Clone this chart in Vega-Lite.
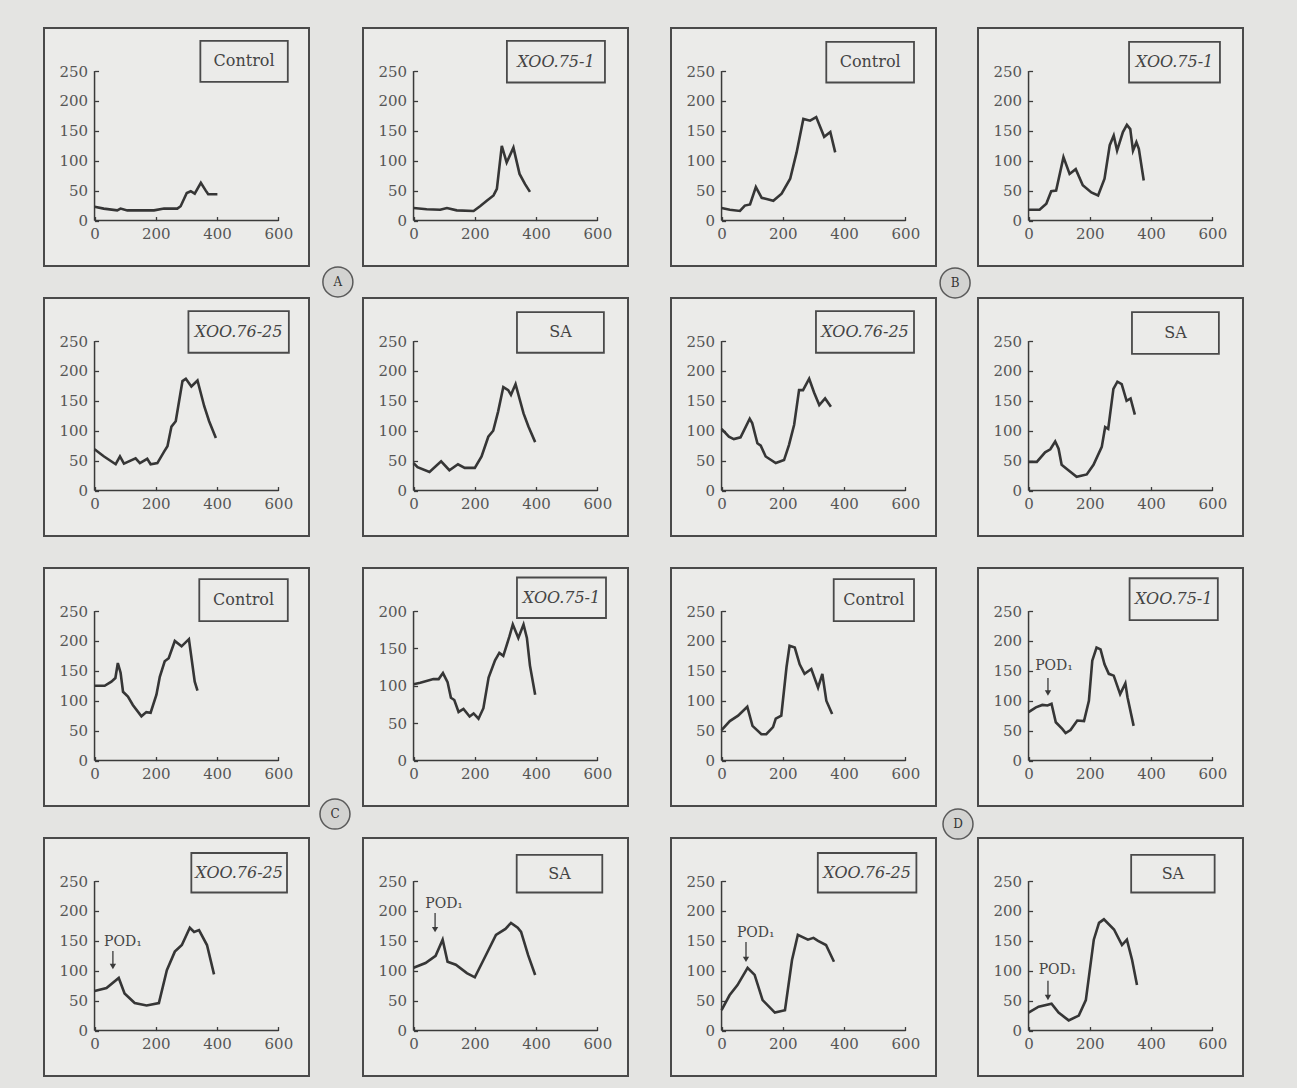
{
"$schema":"https://vega.github.io/schema/vega-lite/v6.json",
"background":"#e4e4e2",
"padding":{"left":43,"top":27,"right":56,"bottom":12},
"config":{
 "view":{"stroke":"#4a4a4a","strokeWidth":2,"fill":"#ebebe9"},
 "axis":{"domain":false,"grid":false,"ticks":true,"tickSize":-4,"tickColor":"#3a3a3a","tickWidth":1.3,"labelFont":"DejaVu Serif","labelFontSize":15,"labelColor":"#555555","labelFlush":false,"labelOverlap":false},
 "axisX":{"offset":-45.45,"labelPadding":10},
 "axisY":{"offset":-50.55,"labelPadding":11}
},
"datasets":{
 "p1":[{"x":0,"y":23},{"x":30,"y":20},{"x":74,"y":17},{"x":85,"y":20},{"x":107,"y":17},{"x":150,"y":17},{"x":194,"y":17},{"x":227,"y":20},{"x":270,"y":20},{"x":281,"y":24},{"x":301,"y":46},{"x":314,"y":49},{"x":327,"y":45},{"x":347,"y":63},{"x":363,"y":50},{"x":371,"y":44},{"x":401,"y":44}],
 "p2":[{"x":0,"y":21},{"x":43,"y":19},{"x":87,"y":18},{"x":109,"y":21},{"x":141,"y":17},{"x":196,"y":16},{"x":217,"y":24},{"x":239,"y":33},{"x":261,"y":42},{"x":272,"y":53},{"x":288,"y":125},{"x":304,"y":97},{"x":326,"y":122},{"x":346,"y":78},{"x":364,"y":61},{"x":380,"y":48}],
 "p3":[{"x":0,"y":21},{"x":27,"y":18},{"x":60,"y":16},{"x":76,"y":25},{"x":93,"y":27},{"x":112,"y":56},{"x":131,"y":38},{"x":147,"y":36},{"x":169,"y":33},{"x":196,"y":45},{"x":224,"y":70},{"x":245,"y":114},{"x":267,"y":170},{"x":289,"y":167},{"x":309,"y":173},{"x":335,"y":140},{"x":355,"y":148},{"x":371,"y":114}],
 "p4":[{"x":0,"y":18},{"x":36,"y":18},{"x":58,"y":28},{"x":74,"y":49},{"x":90,"y":50},{"x":114,"y":106},{"x":134,"y":78},{"x":154,"y":86},{"x":177,"y":59},{"x":205,"y":47},{"x":227,"y":42},{"x":248,"y":70},{"x":265,"y":126},{"x":278,"y":142},{"x":289,"y":117},{"x":308,"y":148},{"x":321,"y":160},{"x":332,"y":153},{"x":341,"y":117},{"x":352,"y":131},{"x":360,"y":120},{"x":376,"y":67}],
 "p5":[{"x":0,"y":69},{"x":31,"y":57},{"x":69,"y":44},{"x":83,"y":57},{"x":96,"y":45},{"x":134,"y":54},{"x":148,"y":46},{"x":172,"y":53},{"x":183,"y":44},{"x":205,"y":46},{"x":227,"y":65},{"x":238,"y":74},{"x":251,"y":107},{"x":265,"y":116},{"x":287,"y":183},{"x":298,"y":187},{"x":316,"y":174},{"x":336,"y":184},{"x":358,"y":141},{"x":374,"y":116},{"x":396,"y":88}],
 "p6":[{"x":0,"y":46},{"x":13,"y":39},{"x":52,"y":31},{"x":90,"y":49},{"x":117,"y":34},{"x":145,"y":44},{"x":167,"y":38},{"x":200,"y":38},{"x":222,"y":57},{"x":244,"y":90},{"x":260,"y":100},{"x":276,"y":132},{"x":293,"y":173},{"x":309,"y":168},{"x":318,"y":160},{"x":333,"y":178},{"x":359,"y":129},{"x":375,"y":107},{"x":397,"y":81}],
 "p7":[{"x":0,"y":103},{"x":24,"y":90},{"x":40,"y":86},{"x":62,"y":89},{"x":92,"y":120},{"x":100,"y":113},{"x":117,"y":79},{"x":128,"y":75},{"x":144,"y":57},{"x":177,"y":46},{"x":204,"y":51},{"x":220,"y":76},{"x":237,"y":110},{"x":253,"y":168},{"x":266,"y":168},{"x":286,"y":187},{"x":302,"y":164},{"x":319,"y":143},{"x":338,"y":154},{"x":357,"y":140}],
 "p8":[{"x":0,"y":48},{"x":27,"y":48},{"x":54,"y":64},{"x":71,"y":69},{"x":87,"y":82},{"x":98,"y":70},{"x":108,"y":43},{"x":125,"y":36},{"x":157,"y":23},{"x":190,"y":27},{"x":212,"y":43},{"x":239,"y":73},{"x":250,"y":106},{"x":260,"y":103},{"x":277,"y":170},{"x":290,"y":182},{"x":304,"y":178},{"x":320,"y":150},{"x":333,"y":154},{"x":347,"y":127}],
 "p9":[{"x":0,"y":125},{"x":33,"y":125},{"x":55,"y":132},{"x":68,"y":138},{"x":76,"y":163},{"x":85,"y":147},{"x":93,"y":115},{"x":109,"y":107},{"x":125,"y":93},{"x":153,"y":74},{"x":169,"y":81},{"x":183,"y":80},{"x":202,"y":110},{"x":213,"y":140},{"x":229,"y":166},{"x":242,"y":171},{"x":262,"y":200},{"x":284,"y":191},{"x":308,"y":203},{"x":327,"y":132},{"x":336,"y":117}],
 "p10":[{"x":0,"y":102},{"x":22,"y":104},{"x":65,"y":109},{"x":82,"y":109},{"x":96,"y":117},{"x":111,"y":105},{"x":122,"y":84},{"x":133,"y":81},{"x":147,"y":65},{"x":163,"y":69},{"x":183,"y":59},{"x":196,"y":63},{"x":212,"y":56},{"x":228,"y":70},{"x":245,"y":111},{"x":266,"y":134},{"x":280,"y":144},{"x":293,"y":140},{"x":313,"y":166},{"x":324,"y":182},{"x":342,"y":164},{"x":359,"y":182},{"x":370,"y":164},{"x":380,"y":127},{"x":397,"y":88}],
 "p11":[{"x":0,"y":51},{"x":27,"y":66},{"x":54,"y":75},{"x":84,"y":90},{"x":101,"y":58},{"x":130,"y":44},{"x":146,"y":44},{"x":168,"y":56},{"x":177,"y":70},{"x":195,"y":75},{"x":212,"y":156},{"x":222,"y":192},{"x":239,"y":189},{"x":255,"y":161},{"x":271,"y":145},{"x":293,"y":153},{"x":315,"y":122},{"x":329,"y":145},{"x":342,"y":100},{"x":361,"y":78}],
 "p12":[{"x":0,"y":81},{"x":24,"y":89},{"x":45,"y":93},{"x":62,"y":92},{"x":75,"y":95},{"x":89,"y":64},{"x":110,"y":53},{"x":121,"y":46},{"x":137,"y":51},{"x":159,"y":67},{"x":181,"y":66},{"x":197,"y":100},{"x":208,"y":167},{"x":222,"y":189},{"x":235,"y":186},{"x":248,"y":161},{"x":262,"y":145},{"x":278,"y":142},{"x":299,"y":111},{"x":316,"y":129},{"x":323,"y":106},{"x":343,"y":58}],
 "p13":[{"x":0,"y":66},{"x":39,"y":71},{"x":79,"y":88},{"x":98,"y":62},{"x":131,"y":46},{"x":170,"y":42},{"x":210,"y":46},{"x":236,"y":101},{"x":262,"y":132},{"x":285,"y":143},{"x":311,"y":172},{"x":325,"y":165},{"x":341,"y":168},{"x":367,"y":143},{"x":390,"y":94}],
 "p14":[{"x":0,"y":105},{"x":39,"y":113},{"x":72,"y":125},{"x":95,"y":152},{"x":111,"y":115},{"x":138,"y":110},{"x":174,"y":96},{"x":200,"y":89},{"x":236,"y":126},{"x":269,"y":160},{"x":300,"y":170},{"x":318,"y":180},{"x":340,"y":172},{"x":351,"y":165},{"x":374,"y":126},{"x":397,"y":93}],
 "p15":[{"x":0,"y":34},{"x":26,"y":59},{"x":52,"y":76},{"x":85,"y":105},{"x":108,"y":93},{"x":134,"y":51},{"x":174,"y":30},{"x":207,"y":34},{"x":230,"y":118},{"x":249,"y":160},{"x":282,"y":152},{"x":300,"y":155},{"x":315,"y":150},{"x":341,"y":143},{"x":367,"y":115}],
 "p16":[{"x":0,"y":30},{"x":33,"y":40},{"x":75,"y":45},{"x":98,"y":30},{"x":131,"y":17},{"x":164,"y":25},{"x":187,"y":51},{"x":213,"y":152},{"x":230,"y":180},{"x":246,"y":186},{"x":279,"y":169},{"x":305,"y":143},{"x":321,"y":152},{"x":338,"y":118},{"x":354,"y":76}]
},
"spacing":41,
"hconcat":[
{"spacing":5,"hconcat":[
 {"bounds":"flush","spacing":32,"vconcat":[
  {"width":265,"height":238,"layer":[
   {"layer":[
    {"data":{"values":[{}]},"mark":{"type":"rule","color":"#3a3a3a","strokeWidth":1.5},"encoding":{"x":{"datum":0,"type":"quantitative","scale":{"domain":[-165,700],"nice":false,"zero":false}},"x2":{"datum":600},"y":{"datum":0,"type":"quantitative","scale":{"domain":[-76,322],"nice":false,"zero":false}}}},
    {"data":{"values":[{}]},"mark":{"type":"rule","color":"#3a3a3a","strokeWidth":1.5},"encoding":{"x":{"datum":0,"type":"quantitative","scale":{"domain":[-165,700],"nice":false,"zero":false}},"y":{"datum":0,"type":"quantitative","scale":{"domain":[-76,322],"nice":false,"zero":false}},"y2":{"datum":250}}},
    {"data":{"name":"p1"},"mark":{"type":"line","color":"#363636","strokeWidth":2.6},"encoding":{"x":{"field":"x","type":"quantitative","scale":{"domain":[-165,700],"nice":false,"zero":false},"axis":{"values":[0,200,400,600],"title":null}},"y":{"field":"y","type":"quantitative","scale":{"domain":[-76,322],"nice":false,"zero":false},"axis":{"values":[0,50,100,150,200,250],"title":null}}}}
   ]},
   {"data":{"values":[{}]},"layer":[
    {"mark":{"type":"rect","fill":"#ebebe9","stroke":"#4a4a4a","strokeWidth":1.8},"encoding":{"x":{"datum":0.59,"type":"quantitative","scale":{"domain":[0,1],"nice":false,"zero":false},"axis":null},"x2":{"datum":0.92},"y":{"datum":0.054,"type":"quantitative","scale":{"domain":[0,1],"nice":false,"zero":false,"reverse":true},"axis":null},"y2":{"datum":0.226}}},
    {"mark":{"type":"text","font":"DejaVu Serif","fontSize":16,"color":"#444444"},"encoding":{"x":{"datum":0.755,"type":"quantitative","scale":{"domain":[0,1],"nice":false,"zero":false},"axis":null},"y":{"datum":0.14,"type":"quantitative","scale":{"domain":[0,1],"nice":false,"zero":false,"reverse":true},"axis":null},"text":{"value":"Control"}}},
    {"mark":{"type":"point","shape":"circle","filled":true,"size":900,"color":"#d3d3d1","stroke":"#5a5a5a","strokeWidth":1.5,"opacity":1},"encoding":{"x":{"datum":1.109,"type":"quantitative","scale":{"domain":[0,1],"nice":false,"zero":false},"axis":null},"y":{"datum":1.067,"type":"quantitative","scale":{"domain":[0,1],"nice":false,"zero":false,"reverse":true},"axis":null}}},
    {"mark":{"type":"text","font":"DejaVu Serif","fontSize":12,"color":"#333333"},"encoding":{"x":{"datum":1.109,"type":"quantitative","scale":{"domain":[0,1],"nice":false,"zero":false},"axis":null},"y":{"datum":1.067,"type":"quantitative","scale":{"domain":[0,1],"nice":false,"zero":false,"reverse":true},"axis":null},"text":{"value":"A"}}}
   ]}
  ],"resolve":{"scale":{"x":"independent","y":"independent"}}},
  {"width":265,"height":238,"layer":[
   {"layer":[
    {"data":{"values":[{}]},"mark":{"type":"rule","color":"#3a3a3a","strokeWidth":1.5},"encoding":{"x":{"datum":0,"type":"quantitative","scale":{"domain":[-165,700],"nice":false,"zero":false}},"x2":{"datum":600},"y":{"datum":0,"type":"quantitative","scale":{"domain":[-76,322],"nice":false,"zero":false}}}},
    {"data":{"values":[{}]},"mark":{"type":"rule","color":"#3a3a3a","strokeWidth":1.5},"encoding":{"x":{"datum":0,"type":"quantitative","scale":{"domain":[-165,700],"nice":false,"zero":false}},"y":{"datum":0,"type":"quantitative","scale":{"domain":[-76,322],"nice":false,"zero":false}},"y2":{"datum":250}}},
    {"data":{"name":"p5"},"mark":{"type":"line","color":"#363636","strokeWidth":2.6},"encoding":{"x":{"field":"x","type":"quantitative","scale":{"domain":[-165,700],"nice":false,"zero":false},"axis":{"values":[0,200,400,600],"title":null}},"y":{"field":"y","type":"quantitative","scale":{"domain":[-76,322],"nice":false,"zero":false},"axis":{"values":[0,50,100,150,200,250],"title":null}}}}
   ]},
   {"data":{"values":[{}]},"layer":[
    {"mark":{"type":"rect","fill":"#ebebe9","stroke":"#4a4a4a","strokeWidth":1.8},"encoding":{"x":{"datum":0.545,"type":"quantitative","scale":{"domain":[0,1],"nice":false,"zero":false},"axis":null},"x2":{"datum":0.924},"y":{"datum":0.055,"type":"quantitative","scale":{"domain":[0,1],"nice":false,"zero":false,"reverse":true},"axis":null},"y2":{"datum":0.23}}},
    {"mark":{"type":"text","font":"DejaVu Serif","fontSize":16,"fontStyle":"italic","color":"#444444"},"encoding":{"x":{"datum":0.7345,"type":"quantitative","scale":{"domain":[0,1],"nice":false,"zero":false},"axis":null},"y":{"datum":0.1425,"type":"quantitative","scale":{"domain":[0,1],"nice":false,"zero":false,"reverse":true},"axis":null},"text":{"value":"XOO.76-25"}}}
   ]}
  ],"resolve":{"scale":{"x":"independent","y":"independent"}}},
  {"width":265,"height":238,"layer":[
   {"layer":[
    {"data":{"values":[{}]},"mark":{"type":"rule","color":"#3a3a3a","strokeWidth":1.5},"encoding":{"x":{"datum":0,"type":"quantitative","scale":{"domain":[-165,700],"nice":false,"zero":false}},"x2":{"datum":600},"y":{"datum":0,"type":"quantitative","scale":{"domain":[-76,322],"nice":false,"zero":false}}}},
    {"data":{"values":[{}]},"mark":{"type":"rule","color":"#3a3a3a","strokeWidth":1.5},"encoding":{"x":{"datum":0,"type":"quantitative","scale":{"domain":[-165,700],"nice":false,"zero":false}},"y":{"datum":0,"type":"quantitative","scale":{"domain":[-76,322],"nice":false,"zero":false}},"y2":{"datum":250}}},
    {"data":{"name":"p9"},"mark":{"type":"line","color":"#363636","strokeWidth":2.6},"encoding":{"x":{"field":"x","type":"quantitative","scale":{"domain":[-165,700],"nice":false,"zero":false},"axis":{"values":[0,200,400,600],"title":null}},"y":{"field":"y","type":"quantitative","scale":{"domain":[-76,322],"nice":false,"zero":false},"axis":{"values":[0,50,100,150,200,250],"title":null}}}}
   ]},
   {"data":{"values":[{}]},"layer":[
    {"mark":{"type":"rect","fill":"#ebebe9","stroke":"#4a4a4a","strokeWidth":1.8},"encoding":{"x":{"datum":0.586,"type":"quantitative","scale":{"domain":[0,1],"nice":false,"zero":false},"axis":null},"x2":{"datum":0.92},"y":{"datum":0.047,"type":"quantitative","scale":{"domain":[0,1],"nice":false,"zero":false,"reverse":true},"axis":null},"y2":{"datum":0.223}}},
    {"mark":{"type":"text","font":"DejaVu Serif","fontSize":16,"color":"#444444"},"encoding":{"x":{"datum":0.753,"type":"quantitative","scale":{"domain":[0,1],"nice":false,"zero":false},"axis":null},"y":{"datum":0.135,"type":"quantitative","scale":{"domain":[0,1],"nice":false,"zero":false,"reverse":true},"axis":null},"text":{"value":"Control"}}},
    {"mark":{"type":"point","shape":"circle","filled":true,"size":900,"color":"#d3d3d1","stroke":"#5a5a5a","strokeWidth":1.5,"opacity":1},"encoding":{"x":{"datum":1.098,"type":"quantitative","scale":{"domain":[0,1],"nice":false,"zero":false},"axis":null},"y":{"datum":1.034,"type":"quantitative","scale":{"domain":[0,1],"nice":false,"zero":false,"reverse":true},"axis":null}}},
    {"mark":{"type":"text","font":"DejaVu Serif","fontSize":12,"color":"#333333"},"encoding":{"x":{"datum":1.098,"type":"quantitative","scale":{"domain":[0,1],"nice":false,"zero":false},"axis":null},"y":{"datum":1.034,"type":"quantitative","scale":{"domain":[0,1],"nice":false,"zero":false,"reverse":true},"axis":null},"text":{"value":"C"}}}
   ]}
  ],"resolve":{"scale":{"x":"independent","y":"independent"}}},
  {"width":265,"height":238,"layer":[
   {"layer":[
    {"data":{"values":[{}]},"mark":{"type":"rule","color":"#3a3a3a","strokeWidth":1.5},"encoding":{"x":{"datum":0,"type":"quantitative","scale":{"domain":[-165,700],"nice":false,"zero":false}},"x2":{"datum":600},"y":{"datum":0,"type":"quantitative","scale":{"domain":[-76,322],"nice":false,"zero":false}}}},
    {"data":{"values":[{}]},"mark":{"type":"rule","color":"#3a3a3a","strokeWidth":1.5},"encoding":{"x":{"datum":0,"type":"quantitative","scale":{"domain":[-165,700],"nice":false,"zero":false}},"y":{"datum":0,"type":"quantitative","scale":{"domain":[-76,322],"nice":false,"zero":false}},"y2":{"datum":250}}},
    {"data":{"name":"p13"},"mark":{"type":"line","color":"#363636","strokeWidth":2.6},"encoding":{"x":{"field":"x","type":"quantitative","scale":{"domain":[-165,700],"nice":false,"zero":false},"axis":{"values":[0,200,400,600],"title":null}},"y":{"field":"y","type":"quantitative","scale":{"domain":[-76,322],"nice":false,"zero":false},"axis":{"values":[0,50,100,150,200,250],"title":null}}}}
   ]},
   {"data":{"values":[{}]},"layer":[
    {"mark":{"type":"rect","fill":"#ebebe9","stroke":"#4a4a4a","strokeWidth":1.8},"encoding":{"x":{"datum":0.556,"type":"quantitative","scale":{"domain":[0,1],"nice":false,"zero":false},"axis":null},"x2":{"datum":0.917},"y":{"datum":0.063,"type":"quantitative","scale":{"domain":[0,1],"nice":false,"zero":false,"reverse":true},"axis":null},"y2":{"datum":0.229}}},
    {"mark":{"type":"text","font":"DejaVu Serif","fontSize":16,"fontStyle":"italic","color":"#444444"},"encoding":{"x":{"datum":0.7365,"type":"quantitative","scale":{"domain":[0,1],"nice":false,"zero":false},"axis":null},"y":{"datum":0.146,"type":"quantitative","scale":{"domain":[0,1],"nice":false,"zero":false,"reverse":true},"axis":null},"text":{"value":"XOO.76-25"}}},
    {"mark":{"type":"text","font":"DejaVu Serif","fontSize":14,"color":"#444444"},"encoding":{"x":{"datum":0.298,"type":"quantitative","scale":{"domain":[0,1],"nice":false,"zero":false},"axis":null},"y":{"datum":0.437,"type":"quantitative","scale":{"domain":[0,1],"nice":false,"zero":false,"reverse":true},"axis":null},"text":{"value":"POD₁"}}},
    {"mark":{"type":"rule","color":"#3a3a3a","strokeWidth":1.3},"encoding":{"x":{"datum":0.26,"type":"quantitative","scale":{"domain":[0,1],"nice":false,"zero":false},"axis":null},"y":{"datum":0.475,"type":"quantitative","scale":{"domain":[0,1],"nice":false,"zero":false,"reverse":true},"axis":null},"y2":{"datum":0.54}}},
    {"mark":{"type":"point","shape":"triangle-down","filled":true,"size":40,"color":"#3a3a3a","opacity":1},"encoding":{"x":{"datum":0.26,"type":"quantitative","scale":{"domain":[0,1],"nice":false,"zero":false},"axis":null},"y":{"datum":0.54,"type":"quantitative","scale":{"domain":[0,1],"nice":false,"zero":false,"reverse":true},"axis":null}}}
   ]}
  ],"resolve":{"scale":{"x":"independent","y":"independent"}}}
 ]},
 {"bounds":"flush","spacing":32,"vconcat":[
  {"width":265,"height":238,"layer":[
   {"layer":[
    {"data":{"values":[{}]},"mark":{"type":"rule","color":"#3a3a3a","strokeWidth":1.5},"encoding":{"x":{"datum":0,"type":"quantitative","scale":{"domain":[-165,700],"nice":false,"zero":false}},"x2":{"datum":600},"y":{"datum":0,"type":"quantitative","scale":{"domain":[-76,322],"nice":false,"zero":false}}}},
    {"data":{"values":[{}]},"mark":{"type":"rule","color":"#3a3a3a","strokeWidth":1.5},"encoding":{"x":{"datum":0,"type":"quantitative","scale":{"domain":[-165,700],"nice":false,"zero":false}},"y":{"datum":0,"type":"quantitative","scale":{"domain":[-76,322],"nice":false,"zero":false}},"y2":{"datum":250}}},
    {"data":{"name":"p2"},"mark":{"type":"line","color":"#363636","strokeWidth":2.6},"encoding":{"x":{"field":"x","type":"quantitative","scale":{"domain":[-165,700],"nice":false,"zero":false},"axis":{"values":[0,200,400,600],"title":null}},"y":{"field":"y","type":"quantitative","scale":{"domain":[-76,322],"nice":false,"zero":false},"axis":{"values":[0,50,100,150,200,250],"title":null}}}}
   ]},
   {"data":{"values":[{}]},"layer":[
    {"mark":{"type":"rect","fill":"#ebebe9","stroke":"#4a4a4a","strokeWidth":1.8},"encoding":{"x":{"datum":0.543,"type":"quantitative","scale":{"domain":[0,1],"nice":false,"zero":false},"axis":null},"x2":{"datum":0.913},"y":{"datum":0.054,"type":"quantitative","scale":{"domain":[0,1],"nice":false,"zero":false,"reverse":true},"axis":null},"y2":{"datum":0.229}}},
    {"mark":{"type":"text","font":"DejaVu Serif","fontSize":16,"fontStyle":"italic","color":"#444444"},"encoding":{"x":{"datum":0.728,"type":"quantitative","scale":{"domain":[0,1],"nice":false,"zero":false},"axis":null},"y":{"datum":0.1415,"type":"quantitative","scale":{"domain":[0,1],"nice":false,"zero":false,"reverse":true},"axis":null},"text":{"value":"XOO.75-1"}}}
   ]}
  ],"resolve":{"scale":{"x":"independent","y":"independent"}}},
  {"width":265,"height":238,"layer":[
   {"layer":[
    {"data":{"values":[{}]},"mark":{"type":"rule","color":"#3a3a3a","strokeWidth":1.5},"encoding":{"x":{"datum":0,"type":"quantitative","scale":{"domain":[-165,700],"nice":false,"zero":false}},"x2":{"datum":600},"y":{"datum":0,"type":"quantitative","scale":{"domain":[-76,322],"nice":false,"zero":false}}}},
    {"data":{"values":[{}]},"mark":{"type":"rule","color":"#3a3a3a","strokeWidth":1.5},"encoding":{"x":{"datum":0,"type":"quantitative","scale":{"domain":[-165,700],"nice":false,"zero":false}},"y":{"datum":0,"type":"quantitative","scale":{"domain":[-76,322],"nice":false,"zero":false}},"y2":{"datum":250}}},
    {"data":{"name":"p6"},"mark":{"type":"line","color":"#363636","strokeWidth":2.6},"encoding":{"x":{"field":"x","type":"quantitative","scale":{"domain":[-165,700],"nice":false,"zero":false},"axis":{"values":[0,200,400,600],"title":null}},"y":{"field":"y","type":"quantitative","scale":{"domain":[-76,322],"nice":false,"zero":false},"axis":{"values":[0,50,100,150,200,250],"title":null}}}}
   ]},
   {"data":{"values":[{}]},"layer":[
    {"mark":{"type":"rect","fill":"#ebebe9","stroke":"#4a4a4a","strokeWidth":1.8},"encoding":{"x":{"datum":0.581,"type":"quantitative","scale":{"domain":[0,1],"nice":false,"zero":false},"axis":null},"x2":{"datum":0.909},"y":{"datum":0.059,"type":"quantitative","scale":{"domain":[0,1],"nice":false,"zero":false,"reverse":true},"axis":null},"y2":{"datum":0.23}}},
    {"mark":{"type":"text","font":"DejaVu Serif","fontSize":16,"color":"#444444"},"encoding":{"x":{"datum":0.745,"type":"quantitative","scale":{"domain":[0,1],"nice":false,"zero":false},"axis":null},"y":{"datum":0.1445,"type":"quantitative","scale":{"domain":[0,1],"nice":false,"zero":false,"reverse":true},"axis":null},"text":{"value":"SA"}}}
   ]}
  ],"resolve":{"scale":{"x":"independent","y":"independent"}}},
  {"width":265,"height":238,"layer":[
   {"layer":[
    {"data":{"values":[{}]},"mark":{"type":"rule","color":"#3a3a3a","strokeWidth":1.5},"encoding":{"x":{"datum":0,"type":"quantitative","scale":{"domain":[-165,700],"nice":false,"zero":false}},"x2":{"datum":600},"y":{"datum":0,"type":"quantitative","scale":{"domain":[-60.8,257.6],"nice":false,"zero":false}}}},
    {"data":{"values":[{}]},"mark":{"type":"rule","color":"#3a3a3a","strokeWidth":1.5},"encoding":{"x":{"datum":0,"type":"quantitative","scale":{"domain":[-165,700],"nice":false,"zero":false}},"y":{"datum":0,"type":"quantitative","scale":{"domain":[-60.8,257.6],"nice":false,"zero":false}},"y2":{"datum":200}}},
    {"data":{"name":"p10"},"mark":{"type":"line","color":"#363636","strokeWidth":2.6},"encoding":{"x":{"field":"x","type":"quantitative","scale":{"domain":[-165,700],"nice":false,"zero":false},"axis":{"values":[0,200,400,600],"title":null}},"y":{"field":"y","type":"quantitative","scale":{"domain":[-60.8,257.6],"nice":false,"zero":false},"axis":{"values":[0,50,100,150,200],"title":null}}}}
   ]},
   {"data":{"values":[{}]},"layer":[
    {"mark":{"type":"rect","fill":"#ebebe9","stroke":"#4a4a4a","strokeWidth":1.8},"encoding":{"x":{"datum":0.581,"type":"quantitative","scale":{"domain":[0,1],"nice":false,"zero":false},"axis":null},"x2":{"datum":0.917},"y":{"datum":0.04,"type":"quantitative","scale":{"domain":[0,1],"nice":false,"zero":false,"reverse":true},"axis":null},"y2":{"datum":0.21}}},
    {"mark":{"type":"text","font":"DejaVu Serif","fontSize":16,"fontStyle":"italic","color":"#444444"},"encoding":{"x":{"datum":0.749,"type":"quantitative","scale":{"domain":[0,1],"nice":false,"zero":false},"axis":null},"y":{"datum":0.125,"type":"quantitative","scale":{"domain":[0,1],"nice":false,"zero":false,"reverse":true},"axis":null},"text":{"value":"XOO.75-1"}}}
   ]}
  ],"resolve":{"scale":{"x":"independent","y":"independent"}}},
  {"width":265,"height":238,"layer":[
   {"layer":[
    {"data":{"values":[{}]},"mark":{"type":"rule","color":"#3a3a3a","strokeWidth":1.5},"encoding":{"x":{"datum":0,"type":"quantitative","scale":{"domain":[-165,700],"nice":false,"zero":false}},"x2":{"datum":600},"y":{"datum":0,"type":"quantitative","scale":{"domain":[-76,322],"nice":false,"zero":false}}}},
    {"data":{"values":[{}]},"mark":{"type":"rule","color":"#3a3a3a","strokeWidth":1.5},"encoding":{"x":{"datum":0,"type":"quantitative","scale":{"domain":[-165,700],"nice":false,"zero":false}},"y":{"datum":0,"type":"quantitative","scale":{"domain":[-76,322],"nice":false,"zero":false}},"y2":{"datum":250}}},
    {"data":{"name":"p14"},"mark":{"type":"line","color":"#363636","strokeWidth":2.6},"encoding":{"x":{"field":"x","type":"quantitative","scale":{"domain":[-165,700],"nice":false,"zero":false},"axis":{"values":[0,200,400,600],"title":null}},"y":{"field":"y","type":"quantitative","scale":{"domain":[-76,322],"nice":false,"zero":false},"axis":{"values":[0,50,100,150,200,250],"title":null}}}}
   ]},
   {"data":{"values":[{}]},"layer":[
    {"mark":{"type":"rect","fill":"#ebebe9","stroke":"#4a4a4a","strokeWidth":1.8},"encoding":{"x":{"datum":0.58,"type":"quantitative","scale":{"domain":[0,1],"nice":false,"zero":false},"axis":null},"x2":{"datum":0.903},"y":{"datum":0.071,"type":"quantitative","scale":{"domain":[0,1],"nice":false,"zero":false,"reverse":true},"axis":null},"y2":{"datum":0.229}}},
    {"mark":{"type":"text","font":"DejaVu Serif","fontSize":16,"color":"#444444"},"encoding":{"x":{"datum":0.7415,"type":"quantitative","scale":{"domain":[0,1],"nice":false,"zero":false},"axis":null},"y":{"datum":0.15,"type":"quantitative","scale":{"domain":[0,1],"nice":false,"zero":false,"reverse":true},"axis":null},"text":{"value":"SA"}}},
    {"mark":{"type":"text","font":"DejaVu Serif","fontSize":14,"color":"#444444"},"encoding":{"x":{"datum":0.306,"type":"quantitative","scale":{"domain":[0,1],"nice":false,"zero":false},"axis":null},"y":{"datum":0.277,"type":"quantitative","scale":{"domain":[0,1],"nice":false,"zero":false,"reverse":true},"axis":null},"text":{"value":"POD₁"}}},
    {"mark":{"type":"rule","color":"#3a3a3a","strokeWidth":1.3},"encoding":{"x":{"datum":0.272,"type":"quantitative","scale":{"domain":[0,1],"nice":false,"zero":false},"axis":null},"y":{"datum":0.315,"type":"quantitative","scale":{"domain":[0,1],"nice":false,"zero":false,"reverse":true},"axis":null},"y2":{"datum":0.385}}},
    {"mark":{"type":"point","shape":"triangle-down","filled":true,"size":40,"color":"#3a3a3a","opacity":1},"encoding":{"x":{"datum":0.272,"type":"quantitative","scale":{"domain":[0,1],"nice":false,"zero":false},"axis":null},"y":{"datum":0.385,"type":"quantitative","scale":{"domain":[0,1],"nice":false,"zero":false,"reverse":true},"axis":null}}}
   ]}
  ],"resolve":{"scale":{"x":"independent","y":"independent"}}}
 ]}
]},
{"spacing":0,"hconcat":[
 {"bounds":"flush","spacing":32,"vconcat":[
  {"width":265,"height":238,"layer":[
   {"layer":[
    {"data":{"values":[{}]},"mark":{"type":"rule","color":"#3a3a3a","strokeWidth":1.5},"encoding":{"x":{"datum":0,"type":"quantitative","scale":{"domain":[-165,700],"nice":false,"zero":false}},"x2":{"datum":600},"y":{"datum":0,"type":"quantitative","scale":{"domain":[-76,322],"nice":false,"zero":false}}}},
    {"data":{"values":[{}]},"mark":{"type":"rule","color":"#3a3a3a","strokeWidth":1.5},"encoding":{"x":{"datum":0,"type":"quantitative","scale":{"domain":[-165,700],"nice":false,"zero":false}},"y":{"datum":0,"type":"quantitative","scale":{"domain":[-76,322],"nice":false,"zero":false}},"y2":{"datum":250}}},
    {"data":{"name":"p3"},"mark":{"type":"line","color":"#363636","strokeWidth":2.6},"encoding":{"x":{"field":"x","type":"quantitative","scale":{"domain":[-165,700],"nice":false,"zero":false},"axis":{"values":[0,200,400,600],"title":null}},"y":{"field":"y","type":"quantitative","scale":{"domain":[-76,322],"nice":false,"zero":false},"axis":{"values":[0,50,100,150,200,250],"title":null}}}}
   ]},
   {"data":{"values":[{}]},"layer":[
    {"mark":{"type":"rect","fill":"#ebebe9","stroke":"#4a4a4a","strokeWidth":1.8},"encoding":{"x":{"datum":0.586,"type":"quantitative","scale":{"domain":[0,1],"nice":false,"zero":false},"axis":null},"x2":{"datum":0.917},"y":{"datum":0.058,"type":"quantitative","scale":{"domain":[0,1],"nice":false,"zero":false,"reverse":true},"axis":null},"y2":{"datum":0.229}}},
    {"mark":{"type":"text","font":"DejaVu Serif","fontSize":16,"color":"#444444"},"encoding":{"x":{"datum":0.7515,"type":"quantitative","scale":{"domain":[0,1],"nice":false,"zero":false},"axis":null},"y":{"datum":0.1435,"type":"quantitative","scale":{"domain":[0,1],"nice":false,"zero":false,"reverse":true},"axis":null},"text":{"value":"Control"}}},
    {"mark":{"type":"point","shape":"circle","filled":true,"size":900,"color":"#d3d3d1","stroke":"#5a5a5a","strokeWidth":1.5,"opacity":1},"encoding":{"x":{"datum":1.072,"type":"quantitative","scale":{"domain":[0,1],"nice":false,"zero":false},"axis":null},"y":{"datum":1.071,"type":"quantitative","scale":{"domain":[0,1],"nice":false,"zero":false,"reverse":true},"axis":null}}},
    {"mark":{"type":"text","font":"DejaVu Serif","fontSize":12,"color":"#333333"},"encoding":{"x":{"datum":1.072,"type":"quantitative","scale":{"domain":[0,1],"nice":false,"zero":false},"axis":null},"y":{"datum":1.071,"type":"quantitative","scale":{"domain":[0,1],"nice":false,"zero":false,"reverse":true},"axis":null},"text":{"value":"B"}}}
   ]}
  ],"resolve":{"scale":{"x":"independent","y":"independent"}}},
  {"width":265,"height":238,"layer":[
   {"layer":[
    {"data":{"values":[{}]},"mark":{"type":"rule","color":"#3a3a3a","strokeWidth":1.5},"encoding":{"x":{"datum":0,"type":"quantitative","scale":{"domain":[-165,700],"nice":false,"zero":false}},"x2":{"datum":600},"y":{"datum":0,"type":"quantitative","scale":{"domain":[-76,322],"nice":false,"zero":false}}}},
    {"data":{"values":[{}]},"mark":{"type":"rule","color":"#3a3a3a","strokeWidth":1.5},"encoding":{"x":{"datum":0,"type":"quantitative","scale":{"domain":[-165,700],"nice":false,"zero":false}},"y":{"datum":0,"type":"quantitative","scale":{"domain":[-76,322],"nice":false,"zero":false}},"y2":{"datum":250}}},
    {"data":{"name":"p7"},"mark":{"type":"line","color":"#363636","strokeWidth":2.6},"encoding":{"x":{"field":"x","type":"quantitative","scale":{"domain":[-165,700],"nice":false,"zero":false},"axis":{"values":[0,200,400,600],"title":null}},"y":{"field":"y","type":"quantitative","scale":{"domain":[-76,322],"nice":false,"zero":false},"axis":{"values":[0,50,100,150,200,250],"title":null}}}}
   ]},
   {"data":{"values":[{}]},"layer":[
    {"mark":{"type":"rect","fill":"#ebebe9","stroke":"#4a4a4a","strokeWidth":1.8},"encoding":{"x":{"datum":0.547,"type":"quantitative","scale":{"domain":[0,1],"nice":false,"zero":false},"axis":null},"x2":{"datum":0.917},"y":{"datum":0.055,"type":"quantitative","scale":{"domain":[0,1],"nice":false,"zero":false,"reverse":true},"axis":null},"y2":{"datum":0.23}}},
    {"mark":{"type":"text","font":"DejaVu Serif","fontSize":16,"fontStyle":"italic","color":"#444444"},"encoding":{"x":{"datum":0.732,"type":"quantitative","scale":{"domain":[0,1],"nice":false,"zero":false},"axis":null},"y":{"datum":0.1425,"type":"quantitative","scale":{"domain":[0,1],"nice":false,"zero":false,"reverse":true},"axis":null},"text":{"value":"XOO.76-25"}}}
   ]}
  ],"resolve":{"scale":{"x":"independent","y":"independent"}}},
  {"width":265,"height":238,"layer":[
   {"layer":[
    {"data":{"values":[{}]},"mark":{"type":"rule","color":"#3a3a3a","strokeWidth":1.5},"encoding":{"x":{"datum":0,"type":"quantitative","scale":{"domain":[-165,700],"nice":false,"zero":false}},"x2":{"datum":600},"y":{"datum":0,"type":"quantitative","scale":{"domain":[-76,322],"nice":false,"zero":false}}}},
    {"data":{"values":[{}]},"mark":{"type":"rule","color":"#3a3a3a","strokeWidth":1.5},"encoding":{"x":{"datum":0,"type":"quantitative","scale":{"domain":[-165,700],"nice":false,"zero":false}},"y":{"datum":0,"type":"quantitative","scale":{"domain":[-76,322],"nice":false,"zero":false}},"y2":{"datum":250}}},
    {"data":{"name":"p11"},"mark":{"type":"line","color":"#363636","strokeWidth":2.6},"encoding":{"x":{"field":"x","type":"quantitative","scale":{"domain":[-165,700],"nice":false,"zero":false},"axis":{"values":[0,200,400,600],"title":null}},"y":{"field":"y","type":"quantitative","scale":{"domain":[-76,322],"nice":false,"zero":false},"axis":{"values":[0,50,100,150,200,250],"title":null}}}}
   ]},
   {"data":{"values":[{}]},"layer":[
    {"mark":{"type":"rect","fill":"#ebebe9","stroke":"#4a4a4a","strokeWidth":1.8},"encoding":{"x":{"datum":0.614,"type":"quantitative","scale":{"domain":[0,1],"nice":false,"zero":false},"axis":null},"x2":{"datum":0.917},"y":{"datum":0.047,"type":"quantitative","scale":{"domain":[0,1],"nice":false,"zero":false,"reverse":true},"axis":null},"y2":{"datum":0.223}}},
    {"mark":{"type":"text","font":"DejaVu Serif","fontSize":16,"color":"#444444"},"encoding":{"x":{"datum":0.7655,"type":"quantitative","scale":{"domain":[0,1],"nice":false,"zero":false},"axis":null},"y":{"datum":0.135,"type":"quantitative","scale":{"domain":[0,1],"nice":false,"zero":false,"reverse":true},"axis":null},"text":{"value":"Control"}}},
    {"mark":{"type":"point","shape":"circle","filled":true,"size":900,"color":"#d3d3d1","stroke":"#5a5a5a","strokeWidth":1.5,"opacity":1},"encoding":{"x":{"datum":1.083,"type":"quantitative","scale":{"domain":[0,1],"nice":false,"zero":false},"axis":null},"y":{"datum":1.076,"type":"quantitative","scale":{"domain":[0,1],"nice":false,"zero":false,"reverse":true},"axis":null}}},
    {"mark":{"type":"text","font":"DejaVu Serif","fontSize":12,"color":"#333333"},"encoding":{"x":{"datum":1.083,"type":"quantitative","scale":{"domain":[0,1],"nice":false,"zero":false},"axis":null},"y":{"datum":1.076,"type":"quantitative","scale":{"domain":[0,1],"nice":false,"zero":false,"reverse":true},"axis":null},"text":{"value":"D"}}}
   ]}
  ],"resolve":{"scale":{"x":"independent","y":"independent"}}},
  {"width":265,"height":238,"layer":[
   {"layer":[
    {"data":{"values":[{}]},"mark":{"type":"rule","color":"#3a3a3a","strokeWidth":1.5},"encoding":{"x":{"datum":0,"type":"quantitative","scale":{"domain":[-165,700],"nice":false,"zero":false}},"x2":{"datum":600},"y":{"datum":0,"type":"quantitative","scale":{"domain":[-76,322],"nice":false,"zero":false}}}},
    {"data":{"values":[{}]},"mark":{"type":"rule","color":"#3a3a3a","strokeWidth":1.5},"encoding":{"x":{"datum":0,"type":"quantitative","scale":{"domain":[-165,700],"nice":false,"zero":false}},"y":{"datum":0,"type":"quantitative","scale":{"domain":[-76,322],"nice":false,"zero":false}},"y2":{"datum":250}}},
    {"data":{"name":"p15"},"mark":{"type":"line","color":"#363636","strokeWidth":2.6},"encoding":{"x":{"field":"x","type":"quantitative","scale":{"domain":[-165,700],"nice":false,"zero":false},"axis":{"values":[0,200,400,600],"title":null}},"y":{"field":"y","type":"quantitative","scale":{"domain":[-76,322],"nice":false,"zero":false},"axis":{"values":[0,50,100,150,200,250],"title":null}}}}
   ]},
   {"data":{"values":[{}]},"layer":[
    {"mark":{"type":"rect","fill":"#ebebe9","stroke":"#4a4a4a","strokeWidth":1.8},"encoding":{"x":{"datum":0.554,"type":"quantitative","scale":{"domain":[0,1],"nice":false,"zero":false},"axis":null},"x2":{"datum":0.926},"y":{"datum":0.063,"type":"quantitative","scale":{"domain":[0,1],"nice":false,"zero":false,"reverse":true},"axis":null},"y2":{"datum":0.229}}},
    {"mark":{"type":"text","font":"DejaVu Serif","fontSize":16,"fontStyle":"italic","color":"#444444"},"encoding":{"x":{"datum":0.74,"type":"quantitative","scale":{"domain":[0,1],"nice":false,"zero":false},"axis":null},"y":{"datum":0.146,"type":"quantitative","scale":{"domain":[0,1],"nice":false,"zero":false,"reverse":true},"axis":null},"text":{"value":"XOO.76-25"}}},
    {"mark":{"type":"text","font":"DejaVu Serif","fontSize":14,"color":"#444444"},"encoding":{"x":{"datum":0.32,"type":"quantitative","scale":{"domain":[0,1],"nice":false,"zero":false},"axis":null},"y":{"datum":0.4,"type":"quantitative","scale":{"domain":[0,1],"nice":false,"zero":false,"reverse":true},"axis":null},"text":{"value":"POD₁"}}},
    {"mark":{"type":"rule","color":"#3a3a3a","strokeWidth":1.3},"encoding":{"x":{"datum":0.283,"type":"quantitative","scale":{"domain":[0,1],"nice":false,"zero":false},"axis":null},"y":{"datum":0.437,"type":"quantitative","scale":{"domain":[0,1],"nice":false,"zero":false,"reverse":true},"axis":null},"y2":{"datum":0.51}}},
    {"mark":{"type":"point","shape":"triangle-down","filled":true,"size":40,"color":"#3a3a3a","opacity":1},"encoding":{"x":{"datum":0.283,"type":"quantitative","scale":{"domain":[0,1],"nice":false,"zero":false},"axis":null},"y":{"datum":0.51,"type":"quantitative","scale":{"domain":[0,1],"nice":false,"zero":false,"reverse":true},"axis":null}}}
   ]}
  ],"resolve":{"scale":{"x":"independent","y":"independent"}}}
 ]},
 {"bounds":"flush","spacing":32,"vconcat":[
  {"width":265,"height":238,"layer":[
   {"layer":[
    {"data":{"values":[{}]},"mark":{"type":"rule","color":"#3a3a3a","strokeWidth":1.5},"encoding":{"x":{"datum":0,"type":"quantitative","scale":{"domain":[-165,700],"nice":false,"zero":false}},"x2":{"datum":600},"y":{"datum":0,"type":"quantitative","scale":{"domain":[-76,322],"nice":false,"zero":false}}}},
    {"data":{"values":[{}]},"mark":{"type":"rule","color":"#3a3a3a","strokeWidth":1.5},"encoding":{"x":{"datum":0,"type":"quantitative","scale":{"domain":[-165,700],"nice":false,"zero":false}},"y":{"datum":0,"type":"quantitative","scale":{"domain":[-76,322],"nice":false,"zero":false}},"y2":{"datum":250}}},
    {"data":{"name":"p4"},"mark":{"type":"line","color":"#363636","strokeWidth":2.6},"encoding":{"x":{"field":"x","type":"quantitative","scale":{"domain":[-165,700],"nice":false,"zero":false},"axis":{"values":[0,200,400,600],"title":null}},"y":{"field":"y","type":"quantitative","scale":{"domain":[-76,322],"nice":false,"zero":false},"axis":{"values":[0,50,100,150,200,250],"title":null}}}}
   ]},
   {"data":{"values":[{}]},"layer":[
    {"mark":{"type":"rect","fill":"#ebebe9","stroke":"#4a4a4a","strokeWidth":1.8},"encoding":{"x":{"datum":0.57,"type":"quantitative","scale":{"domain":[0,1],"nice":false,"zero":false},"axis":null},"x2":{"datum":0.913},"y":{"datum":0.058,"type":"quantitative","scale":{"domain":[0,1],"nice":false,"zero":false,"reverse":true},"axis":null},"y2":{"datum":0.229}}},
    {"mark":{"type":"text","font":"DejaVu Serif","fontSize":16,"fontStyle":"italic","color":"#444444"},"encoding":{"x":{"datum":0.7415,"type":"quantitative","scale":{"domain":[0,1],"nice":false,"zero":false},"axis":null},"y":{"datum":0.1435,"type":"quantitative","scale":{"domain":[0,1],"nice":false,"zero":false,"reverse":true},"axis":null},"text":{"value":"XOO.75-1"}}}
   ]}
  ],"resolve":{"scale":{"x":"independent","y":"independent"}}},
  {"width":265,"height":238,"layer":[
   {"layer":[
    {"data":{"values":[{}]},"mark":{"type":"rule","color":"#3a3a3a","strokeWidth":1.5},"encoding":{"x":{"datum":0,"type":"quantitative","scale":{"domain":[-165,700],"nice":false,"zero":false}},"x2":{"datum":600},"y":{"datum":0,"type":"quantitative","scale":{"domain":[-76,322],"nice":false,"zero":false}}}},
    {"data":{"values":[{}]},"mark":{"type":"rule","color":"#3a3a3a","strokeWidth":1.5},"encoding":{"x":{"datum":0,"type":"quantitative","scale":{"domain":[-165,700],"nice":false,"zero":false}},"y":{"datum":0,"type":"quantitative","scale":{"domain":[-76,322],"nice":false,"zero":false}},"y2":{"datum":250}}},
    {"data":{"name":"p8"},"mark":{"type":"line","color":"#363636","strokeWidth":2.6},"encoding":{"x":{"field":"x","type":"quantitative","scale":{"domain":[-165,700],"nice":false,"zero":false},"axis":{"values":[0,200,400,600],"title":null}},"y":{"field":"y","type":"quantitative","scale":{"domain":[-76,322],"nice":false,"zero":false},"axis":{"values":[0,50,100,150,200,250],"title":null}}}}
   ]},
   {"data":{"values":[{}]},"layer":[
    {"mark":{"type":"rect","fill":"#ebebe9","stroke":"#4a4a4a","strokeWidth":1.8},"encoding":{"x":{"datum":0.581,"type":"quantitative","scale":{"domain":[0,1],"nice":false,"zero":false},"axis":null},"x2":{"datum":0.909},"y":{"datum":0.059,"type":"quantitative","scale":{"domain":[0,1],"nice":false,"zero":false,"reverse":true},"axis":null},"y2":{"datum":0.235}}},
    {"mark":{"type":"text","font":"DejaVu Serif","fontSize":16,"color":"#444444"},"encoding":{"x":{"datum":0.745,"type":"quantitative","scale":{"domain":[0,1],"nice":false,"zero":false},"axis":null},"y":{"datum":0.147,"type":"quantitative","scale":{"domain":[0,1],"nice":false,"zero":false,"reverse":true},"axis":null},"text":{"value":"SA"}}}
   ]}
  ],"resolve":{"scale":{"x":"independent","y":"independent"}}},
  {"width":265,"height":238,"layer":[
   {"layer":[
    {"data":{"values":[{}]},"mark":{"type":"rule","color":"#3a3a3a","strokeWidth":1.5},"encoding":{"x":{"datum":0,"type":"quantitative","scale":{"domain":[-165,700],"nice":false,"zero":false}},"x2":{"datum":600},"y":{"datum":0,"type":"quantitative","scale":{"domain":[-76,322],"nice":false,"zero":false}}}},
    {"data":{"values":[{}]},"mark":{"type":"rule","color":"#3a3a3a","strokeWidth":1.5},"encoding":{"x":{"datum":0,"type":"quantitative","scale":{"domain":[-165,700],"nice":false,"zero":false}},"y":{"datum":0,"type":"quantitative","scale":{"domain":[-76,322],"nice":false,"zero":false}},"y2":{"datum":250}}},
    {"data":{"name":"p12"},"mark":{"type":"line","color":"#363636","strokeWidth":2.6},"encoding":{"x":{"field":"x","type":"quantitative","scale":{"domain":[-165,700],"nice":false,"zero":false},"axis":{"values":[0,200,400,600],"title":null}},"y":{"field":"y","type":"quantitative","scale":{"domain":[-76,322],"nice":false,"zero":false},"axis":{"values":[0,50,100,150,200,250],"title":null}}}}
   ]},
   {"data":{"values":[{}]},"layer":[
    {"mark":{"type":"rect","fill":"#ebebe9","stroke":"#4a4a4a","strokeWidth":1.8},"encoding":{"x":{"datum":0.572,"type":"quantitative","scale":{"domain":[0,1],"nice":false,"zero":false},"axis":null},"x2":{"datum":0.905},"y":{"datum":0.043,"type":"quantitative","scale":{"domain":[0,1],"nice":false,"zero":false,"reverse":true},"axis":null},"y2":{"datum":0.219}}},
    {"mark":{"type":"text","font":"DejaVu Serif","fontSize":16,"fontStyle":"italic","color":"#444444"},"encoding":{"x":{"datum":0.7385,"type":"quantitative","scale":{"domain":[0,1],"nice":false,"zero":false},"axis":null},"y":{"datum":0.131,"type":"quantitative","scale":{"domain":[0,1],"nice":false,"zero":false,"reverse":true},"axis":null},"text":{"value":"XOO.75-1"}}},
    {"mark":{"type":"text","font":"DejaVu Serif","fontSize":14,"color":"#444444"},"encoding":{"x":{"datum":0.287,"type":"quantitative","scale":{"domain":[0,1],"nice":false,"zero":false},"axis":null},"y":{"datum":0.412,"type":"quantitative","scale":{"domain":[0,1],"nice":false,"zero":false,"reverse":true},"axis":null},"text":{"value":"POD₁"}}},
    {"mark":{"type":"rule","color":"#3a3a3a","strokeWidth":1.3},"encoding":{"x":{"datum":0.264,"type":"quantitative","scale":{"domain":[0,1],"nice":false,"zero":false},"axis":null},"y":{"datum":0.462,"type":"quantitative","scale":{"domain":[0,1],"nice":false,"zero":false,"reverse":true},"axis":null},"y2":{"datum":0.525}}},
    {"mark":{"type":"point","shape":"triangle-down","filled":true,"size":40,"color":"#3a3a3a","opacity":1},"encoding":{"x":{"datum":0.264,"type":"quantitative","scale":{"domain":[0,1],"nice":false,"zero":false},"axis":null},"y":{"datum":0.525,"type":"quantitative","scale":{"domain":[0,1],"nice":false,"zero":false,"reverse":true},"axis":null}}}
   ]}
  ],"resolve":{"scale":{"x":"independent","y":"independent"}}},
  {"width":265,"height":238,"layer":[
   {"layer":[
    {"data":{"values":[{}]},"mark":{"type":"rule","color":"#3a3a3a","strokeWidth":1.5},"encoding":{"x":{"datum":0,"type":"quantitative","scale":{"domain":[-165,700],"nice":false,"zero":false}},"x2":{"datum":600},"y":{"datum":0,"type":"quantitative","scale":{"domain":[-76,322],"nice":false,"zero":false}}}},
    {"data":{"values":[{}]},"mark":{"type":"rule","color":"#3a3a3a","strokeWidth":1.5},"encoding":{"x":{"datum":0,"type":"quantitative","scale":{"domain":[-165,700],"nice":false,"zero":false}},"y":{"datum":0,"type":"quantitative","scale":{"domain":[-76,322],"nice":false,"zero":false}},"y2":{"datum":250}}},
    {"data":{"name":"p16"},"mark":{"type":"line","color":"#363636","strokeWidth":2.6},"encoding":{"x":{"field":"x","type":"quantitative","scale":{"domain":[-165,700],"nice":false,"zero":false},"axis":{"values":[0,200,400,600],"title":null}},"y":{"field":"y","type":"quantitative","scale":{"domain":[-76,322],"nice":false,"zero":false},"axis":{"values":[0,50,100,150,200,250],"title":null}}}}
   ]},
   {"data":{"values":[{}]},"layer":[
    {"mark":{"type":"rect","fill":"#ebebe9","stroke":"#4a4a4a","strokeWidth":1.8},"encoding":{"x":{"datum":0.578,"type":"quantitative","scale":{"domain":[0,1],"nice":false,"zero":false},"axis":null},"x2":{"datum":0.893},"y":{"datum":0.071,"type":"quantitative","scale":{"domain":[0,1],"nice":false,"zero":false,"reverse":true},"axis":null},"y2":{"datum":0.229}}},
    {"mark":{"type":"text","font":"DejaVu Serif","fontSize":16,"color":"#444444"},"encoding":{"x":{"datum":0.7355,"type":"quantitative","scale":{"domain":[0,1],"nice":false,"zero":false},"axis":null},"y":{"datum":0.15,"type":"quantitative","scale":{"domain":[0,1],"nice":false,"zero":false,"reverse":true},"axis":null},"text":{"value":"SA"}}},
    {"mark":{"type":"text","font":"DejaVu Serif","fontSize":14,"color":"#444444"},"encoding":{"x":{"datum":0.3,"type":"quantitative","scale":{"domain":[0,1],"nice":false,"zero":false},"axis":null},"y":{"datum":0.555,"type":"quantitative","scale":{"domain":[0,1],"nice":false,"zero":false,"reverse":true},"axis":null},"text":{"value":"POD₁"}}},
    {"mark":{"type":"rule","color":"#3a3a3a","strokeWidth":1.3},"encoding":{"x":{"datum":0.264,"type":"quantitative","scale":{"domain":[0,1],"nice":false,"zero":false},"axis":null},"y":{"datum":0.6,"type":"quantitative","scale":{"domain":[0,1],"nice":false,"zero":false,"reverse":true},"axis":null},"y2":{"datum":0.67}}},
    {"mark":{"type":"point","shape":"triangle-down","filled":true,"size":40,"color":"#3a3a3a","opacity":1},"encoding":{"x":{"datum":0.264,"type":"quantitative","scale":{"domain":[0,1],"nice":false,"zero":false},"axis":null},"y":{"datum":0.67,"type":"quantitative","scale":{"domain":[0,1],"nice":false,"zero":false,"reverse":true},"axis":null}}}
   ]}
  ],"resolve":{"scale":{"x":"independent","y":"independent"}}}
 ]}
]}
]
}
